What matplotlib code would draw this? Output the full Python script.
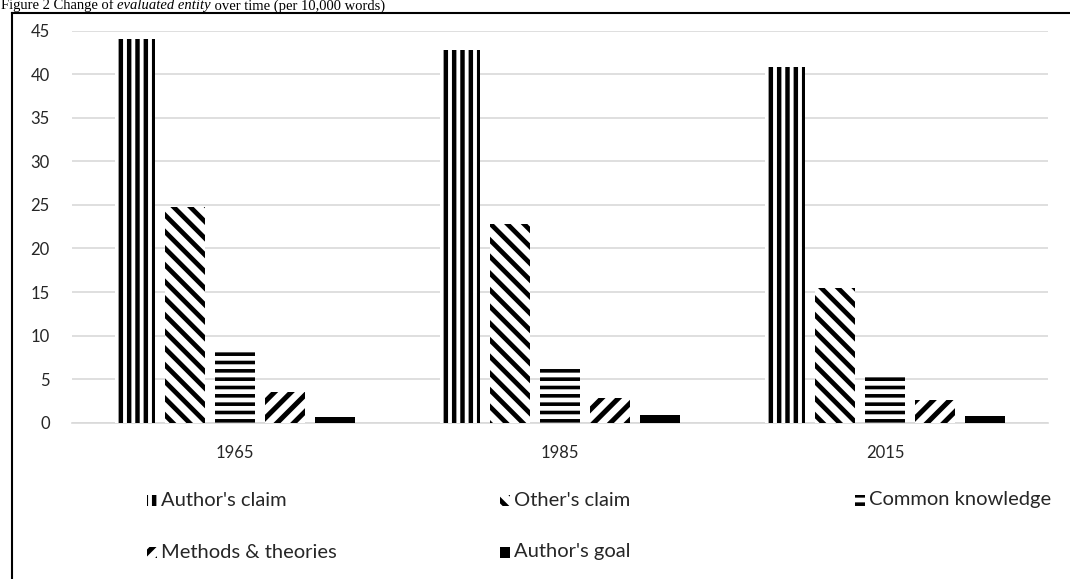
import matplotlib
matplotlib.use("Agg")
import matplotlib.pyplot as plt
from matplotlib.patches import Rectangle
from matplotlib.lines import Line2D
import numpy as np

years = ["1965", "1985", "2015"]
series = ["Author's claim", "Other's claim", "Common knowledge", "Methods & theories", "Author's goal"]
authors_claim = [44.1, 42.8, 40.8]
others_claim = [24.8, 22.8, 15.5]
common_knowledge = [8.2, 6.2, 5.2]
methods_theories = [3.5, 2.8, 2.6]
authors_goal = [0.7, 0.9, 0.75]
values = [authors_claim, others_claim, common_knowledge, methods_theories, authors_goal]

hatches = ["||", "\\\\", "--", "//", None]
hatch_lw = [3.2, 3.4, 2.6, 3.6, 1.0]
yticks = list(range(0, 50, 5))

W, H = 1070, 579
fig = plt.figure(figsize=(W / 100, H / 100), dpi=100)
ax = fig.add_axes([72 / W, 1 - 422.7 / H, (1048 - 72) / W, (422.7 - 30.7) / H])

x = np.arange(len(years))
step = 50 / 325
width = 40 / 325
for i, (name, vals) in enumerate(zip(series, values)):
    off = (i - 2) * step
    with plt.rc_context({"hatch.linewidth": hatch_lw[i], "hatch.color": "black"}):
        if hatches[i] is None:
            ax.bar(x + off, vals, width, color="black", edgecolor="none", zorder=3)
        else:
            ax.bar(x + off, vals, width, color="white", edgecolor="black", linewidth=0,
                   hatch=hatches[i], zorder=3)

ax.set_xlim(-0.5, 2.5)
ax.set_ylim(0, 45)
ax.set_yticks(yticks)
ax.set_xticks(x)
ax.set_xticklabels(years)
ax.yaxis.grid(True, color="#d9d9d9", linewidth=1.2, zorder=0)
for s in ["top", "right", "left"]:
    ax.spines[s].set_visible(False)
ax.spines["bottom"].set_color("#d9d9d9")
ax.spines["bottom"].set_linewidth(1.2)
ax.tick_params(axis="both", length=0, labelsize=12, colors="#404040")
ax.tick_params(axis="y", pad=16)
ax.tick_params(axis="x", pad=16)
for lab in ax.get_xticklabels() + ax.get_yticklabels():
    lab.set_fontfamily("Lato")
    lab.set_color("#262626")

# legend, placed item by item
leg_x = [147, 500, 855]
leg_y = [500, 552]
for i, name in enumerate(series):
    cx = leg_x[i % 3]
    cy = leg_y[i // 3]
    with plt.rc_context({"hatch.linewidth": hatch_lw[i], "hatch.color": "black"}):
        if hatches[i] is None:
            p = Rectangle((cx / W, 1 - (cy + 5.5) / H), 10 / W, 11 / H, transform=fig.transFigure,
                          facecolor="black", edgecolor="none")
        else:
            p = Rectangle((cx / W, 1 - (cy + 5.5) / H), 10 / W, 11 / H, transform=fig.transFigure,
                          facecolor="white", edgecolor="black", linewidth=0, hatch=hatches[i])
    fig.patches.append(p)
    fig.text((cx + 14) / W, 1 - cy / H, name, fontsize=14.5, family="Lato", color="#262626",
             va="center", ha="left")

# outer frame
fig.add_artist(Line2D([12 / W, 12 / W], [0, 1 - 12.5 / H], transform=fig.transFigure,
                      color="black", linewidth=1.5))
fig.add_artist(Line2D([12 / W, 1], [1 - 12.5 / H, 1 - 12.5 / H], transform=fig.transFigure,
                      color="black", linewidth=1.5))

# title at the very top edge
parts = [("Figure 2 Change of ", "normal"), ("evaluated entity", "italic"),
         (" over time (per 10,000 words)", "normal")]
fig.canvas.draw()
r = fig.canvas.get_renderer()
tx = 1
for txt, st in parts:
    t = fig.text(tx / W, 1 - 9.5 / H, txt, fontsize=10.5, family="Liberation Serif", style=st,
                 va="baseline", ha="left")
    bb = t.get_window_extent(renderer=r)
    tx += bb.width

fig.savefig("out.png", dpi=100)
